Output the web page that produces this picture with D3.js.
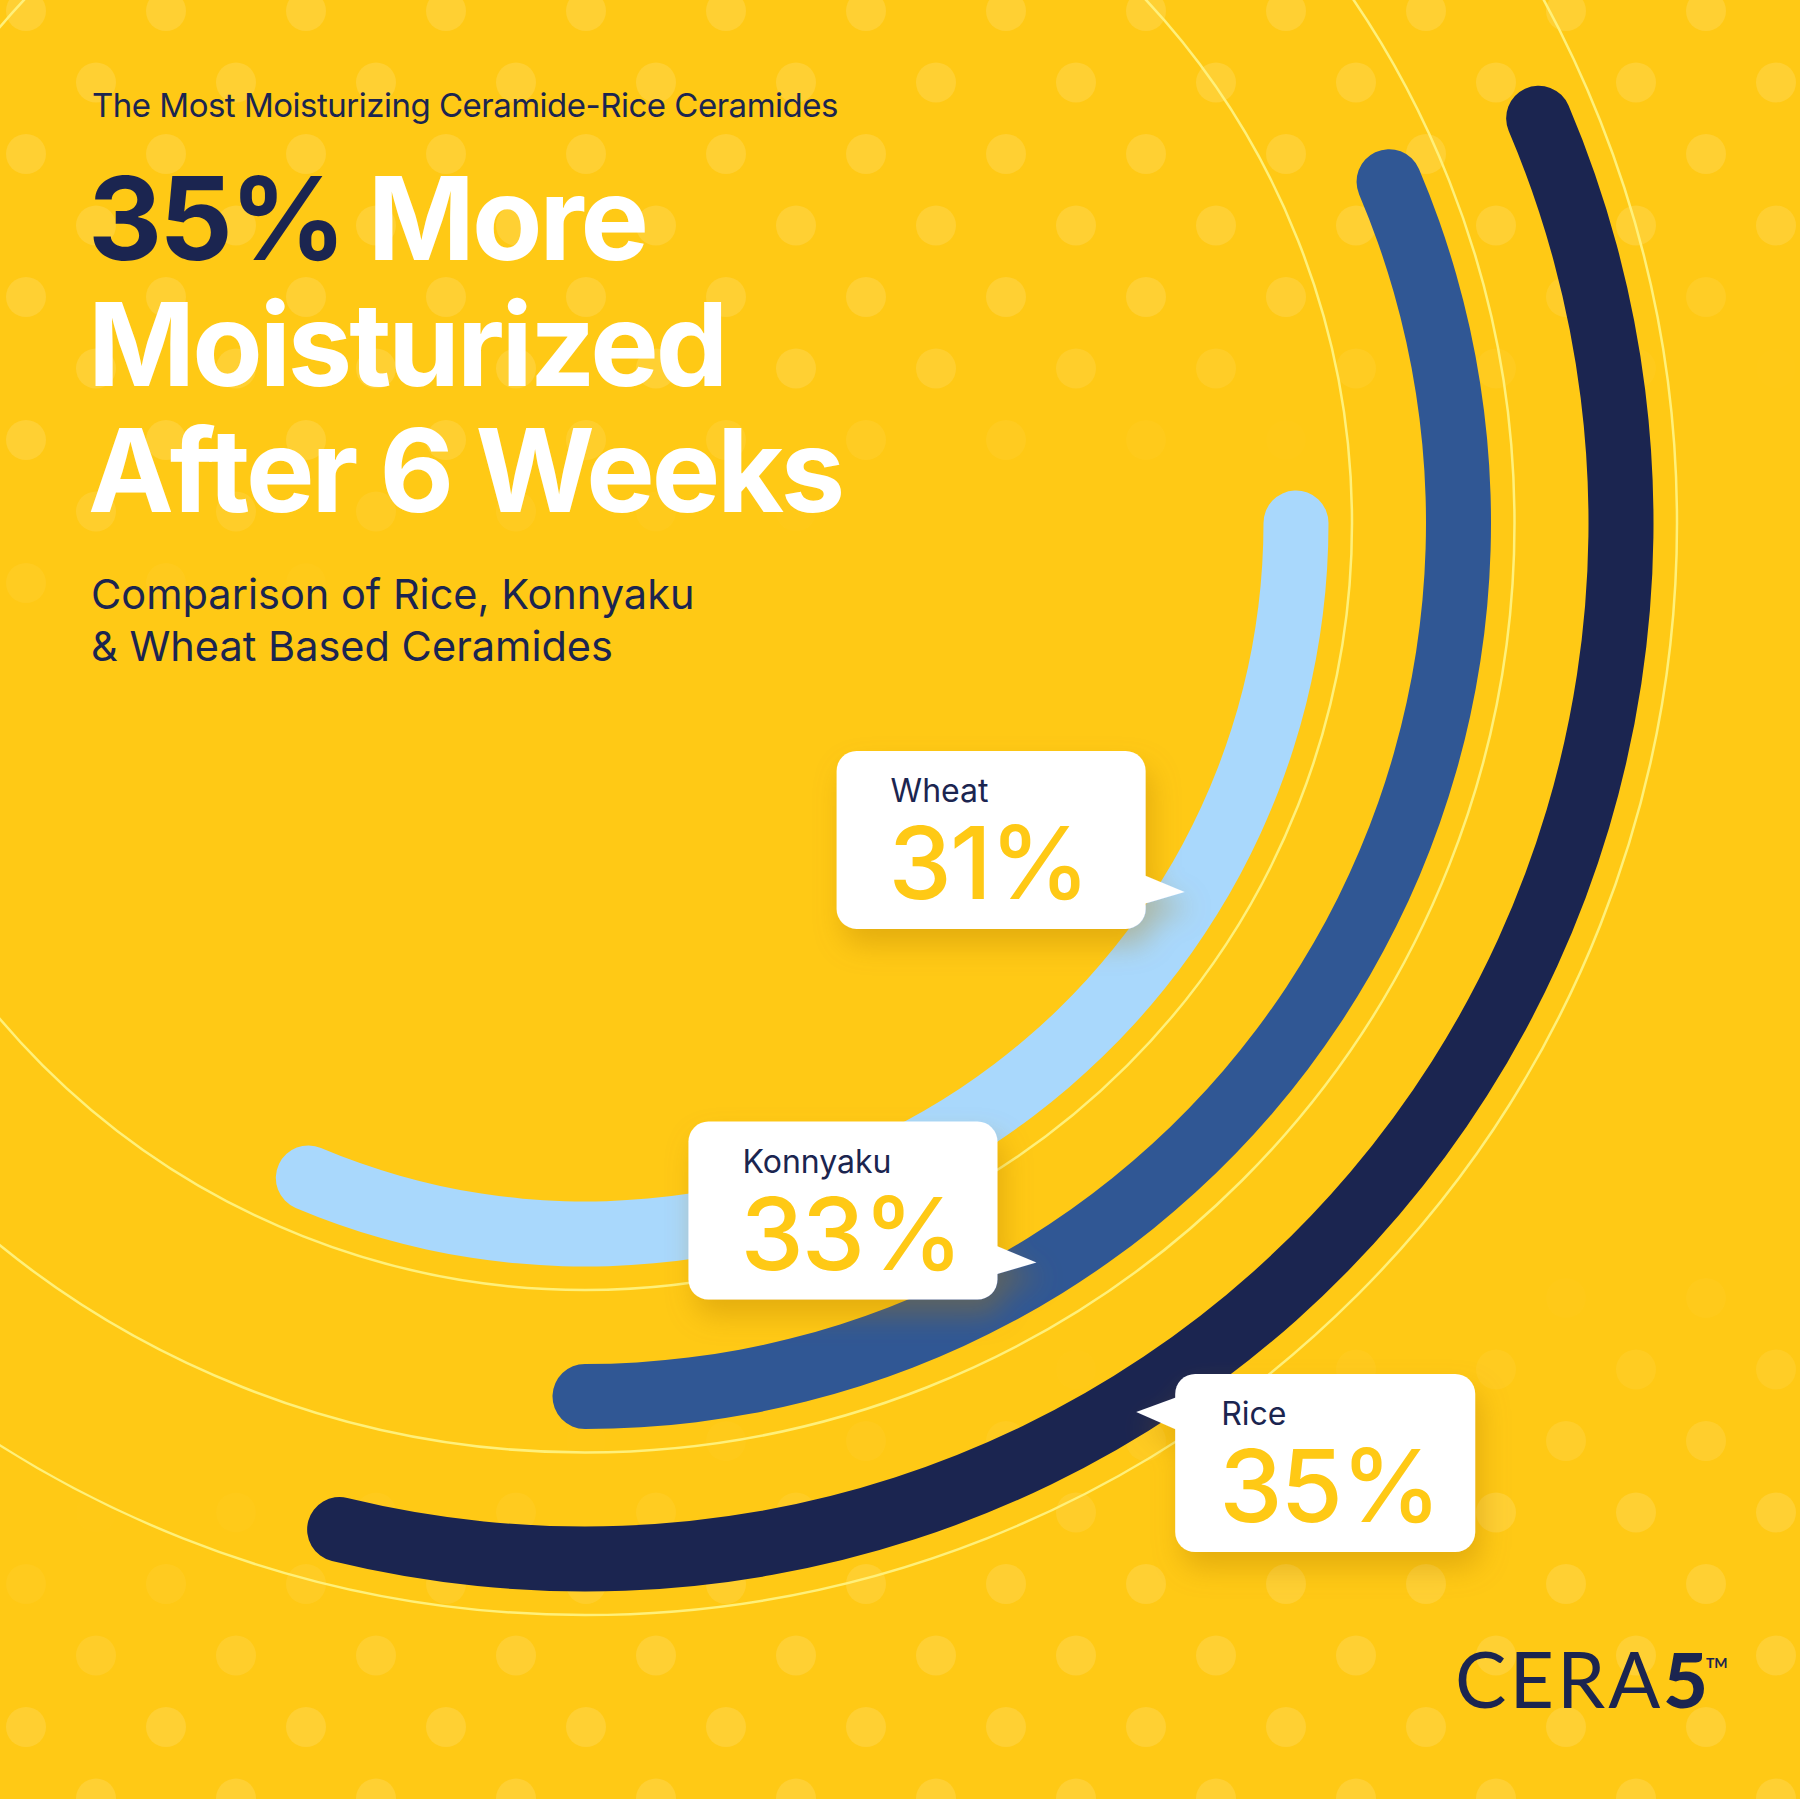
<!DOCTYPE html>
<html>
<head>
<meta charset="utf-8">
<script src="https://cdn.jsdelivr.net/npm/d3@7"></script>
<style>
	html, body { margin: 0; padding: 0; background: #ffc915; }
	svg { display: block; }
</style>
</head>
<body>
<div id="chart"></div>
<script>
// data
const categories = ["Wheat", "Konnyaku", "Rice"];
const values = [31, 33, 35];
const arcStartDeg = [0, -23, -23];      // cap centres, 0 = 3 o'clock, clockwise
const arcEndDeg = [112.9, 90, 103.7];
const calloutDeg = [31.6, 58.6, 58.2];

const kicker = "The Most Moisturizing Ceramide-Rice Ceramides";
const headline = ["35% More", "Moisturized", "After 6 Weeks"];
const subline = ["Comparison of Rice, Konnyaku", "& Wheat Based Ceramides"];

const
	width = 1800,
	height = 1799,
	cx = 585,
	cy = 523,
	band = 65;

const NAVY = "#1b2550";
const BG = "#ffc915";

const svg = d3.select("#chart")
	.append("svg")
	.attr("width", width)
	.attr("height", height)
	.style("font-family", "Inter, 'Noto Sans', sans-serif");

const defs = svg.append("defs");

const shadow = defs.append("filter")
	.attr("id", "bubble-shadow")
	.attr("x", "-30%").attr("y", "-30%")
	.attr("width", "160%").attr("height", "170%");
shadow.append("feDropShadow")
	.attr("dx", 6)
	.attr("dy", 16)
	.attr("stdDeviation", 14)
	.attr("flood-color", "#b07800")
	.attr("flood-opacity", 0.35);

svg.append("rect")
	.attr("width", width)
	.attr("height", height)
	.attr("fill", BG);

// background dots: they only show in a top band and a bottom band,
// fading out across a slightly tilted middle strip
const nx = 0.1537, ny = 0.988;
const topFade = d3.scaleLinear().domain([-580, -420]).range([1, 0]).clamp(true);
const bottomFade = d3.scaleLinear().domain([430, 660]).range([0, 1]).clamp(true);

const dots = [];
for (let row = 0; row * 71.5 < height + 20; row++) {
	const y = 11 + row * 71.5;
	const x0 = row % 2 === 0 ? 26 : 96;
	for (let x = x0; x < width + 20; x += 140) {
		const dist = (x - 900) * nx + (y - 940) * ny;
		const k = Math.max(topFade(dist), bottomFade(dist));
		if (k > 0) dots.push({ x, y, k });
	}
}
svg.append("g")
	.selectAll("circle")
	.data(dots)
	.enter()
	.append("circle")
	.attr("cx", d => d.x)
	.attr("cy", d => d.y)
	.attr("r", 20)
	.attr("fill", "white")
	.attr("fill-opacity", d => 0.13 * d.k);

// scales
const radius = d3.scalePoint()
	.domain(categories)
	.range([711, 1036]);

const color = d3.scaleOrdinal()
	.domain(categories)
	.range(["#a9d8fc", "#305794", NAVY]);

// screen degrees -> d3 arc radians (d3 counts from 12 o'clock)
const angle = d3.scaleLinear()
	.domain([0, 360])
	.range([Math.PI / 2, Math.PI / 2 + 2 * Math.PI]);

const rows = categories.map((c, i) => ({
	name: c,
	value: values[i],
	start: arcStartDeg[i],
	end: arcEndDeg[i],
	callout: calloutDeg[i],
}));

const g = svg.append("g")
	.attr("transform", `translate(${cx}, ${cy})`);

// thin guide rings
g.selectAll("circle.ring")
	.data(rows)
	.enter()
	.append("circle")
	.attr("class", "ring")
	.attr("r", d => radius(d.name) + 56)
	.attr("fill", "none")
	.attr("stroke", "#fff07a")
	.attr("stroke-width", 2.5);

// rounded corners sit inside the angle range, so widen by the cap size
const capAngle = d => Math.asin((band / 2) / radius(d.name));

const arc = d3.arc()
	.innerRadius(d => radius(d.name) - band / 2)
	.outerRadius(d => radius(d.name) + band / 2)
	.startAngle(d => angle(d.start) - capAngle(d))
	.endAngle(d => angle(d.end) + capAngle(d))
	.cornerRadius(band / 2);

g.selectAll("path.bar")
	.data(rows)
	.enter()
	.append("path")
	.attr("class", "bar")
	.attr("d", arc)
	.attr("fill", d => color(d.name));

// callout bubbles
const boxH = 178;
const outer = categories[categories.length - 1];

rows.forEach(d => {
	const outside = d.name === outer;
	const boxW = outside ? 300 : 309;
	const a = d.callout * Math.PI / 180;
	const r = radius(d.name) + (outside ? 10 : -7);
	const tx = Math.cos(a) * r;
	const ty = Math.sin(a) * r;

	let bx, by, tri, pad;
	if (outside) {
		bx = tx + 39;
		by = ty - 38;
		tri = [[bx + 2, ty - 15], [tx, ty], [bx + 2, ty + 18]];
		pad = 46;
	} else {
		bx = tx - 39 - boxW;
		by = ty - 141;
		tri = [[bx + boxW - 2, ty - 17], [tx, ty], [bx + boxW - 2, ty + 12]];
		pad = 54;
	}

	const bubble = g.append("g")
		.attr("filter", "url(#bubble-shadow)");
	bubble.append("rect")
		.attr("x", bx)
		.attr("y", by)
		.attr("width", boxW)
		.attr("height", boxH)
		.attr("rx", 20)
		.attr("fill", "white");
	bubble.append("path")
		.attr("d", d3.line()(tri) + "Z")
		.attr("fill", "white");

	g.append("text")
		.attr("x", bx + pad)
		.attr("y", by + 51)
		.attr("fill", NAVY)
		.style("font-size", "32px")
		.style("font-weight", 400)
		.text(d.name);

	g.append("text")
		.attr("x", bx + pad - 2)
		.attr("y", by + 148)
		.attr("fill", BG)
		.style("font-size", "101px")
		.style("font-weight", 500)
		.style("letter-spacing", "-2px")
		.text(d.value + "%");
});

// header text
svg.append("text")
	.attr("x", 92)
	.attr("y", 117)
	.attr("fill", NAVY)
	.style("font-size", "33px")
	.style("letter-spacing", "-0.5px")
	.text(kicker);

const title = svg.append("g")
	.style("font-size", "115px")
	.style("font-weight", 700)
	.style("letter-spacing", "-3px");

headline.forEach((line, i) => {
	const t = title.append("text")
		.attr("x", 88)
		.attr("y", 260 + i * 126)
		.attr("fill", "white");
	if (i === 0) {
		const parts = line.split(" ");
		t.append("tspan").attr("fill", NAVY).text(parts[0]);
		t.append("tspan").text(" " + parts.slice(1).join(" "));
	} else {
		t.text(line);
	}
});

subline.forEach((line, i) => {
	svg.append("text")
		.attr("x", 91)
		.attr("y", 609 + i * 52)
		.attr("fill", NAVY)
		.style("font-size", "41.5px")
		.style("letter-spacing", "0px")
		.text(line);
});

// logo
const logo = svg.append("text")
	.attr("x", 1455)
	.attr("y", 1708)
	.attr("fill", NAVY)
	.style("font-family", "Lato, sans-serif")
	.style("font-size", "77px");
logo.append("tspan")
	.style("font-weight", 400)
	.style("letter-spacing", "3px")
	.text("CERA");
logo.append("tspan")
	.style("font-weight", 900)
	.text("5");
logo.append("tspan")
	.attr("dx", -2)
	.attr("dy", -40)
	.style("font-size", "14px")
	.style("font-weight", 700)
	.text("TM");
</script>
</body>
</html>
